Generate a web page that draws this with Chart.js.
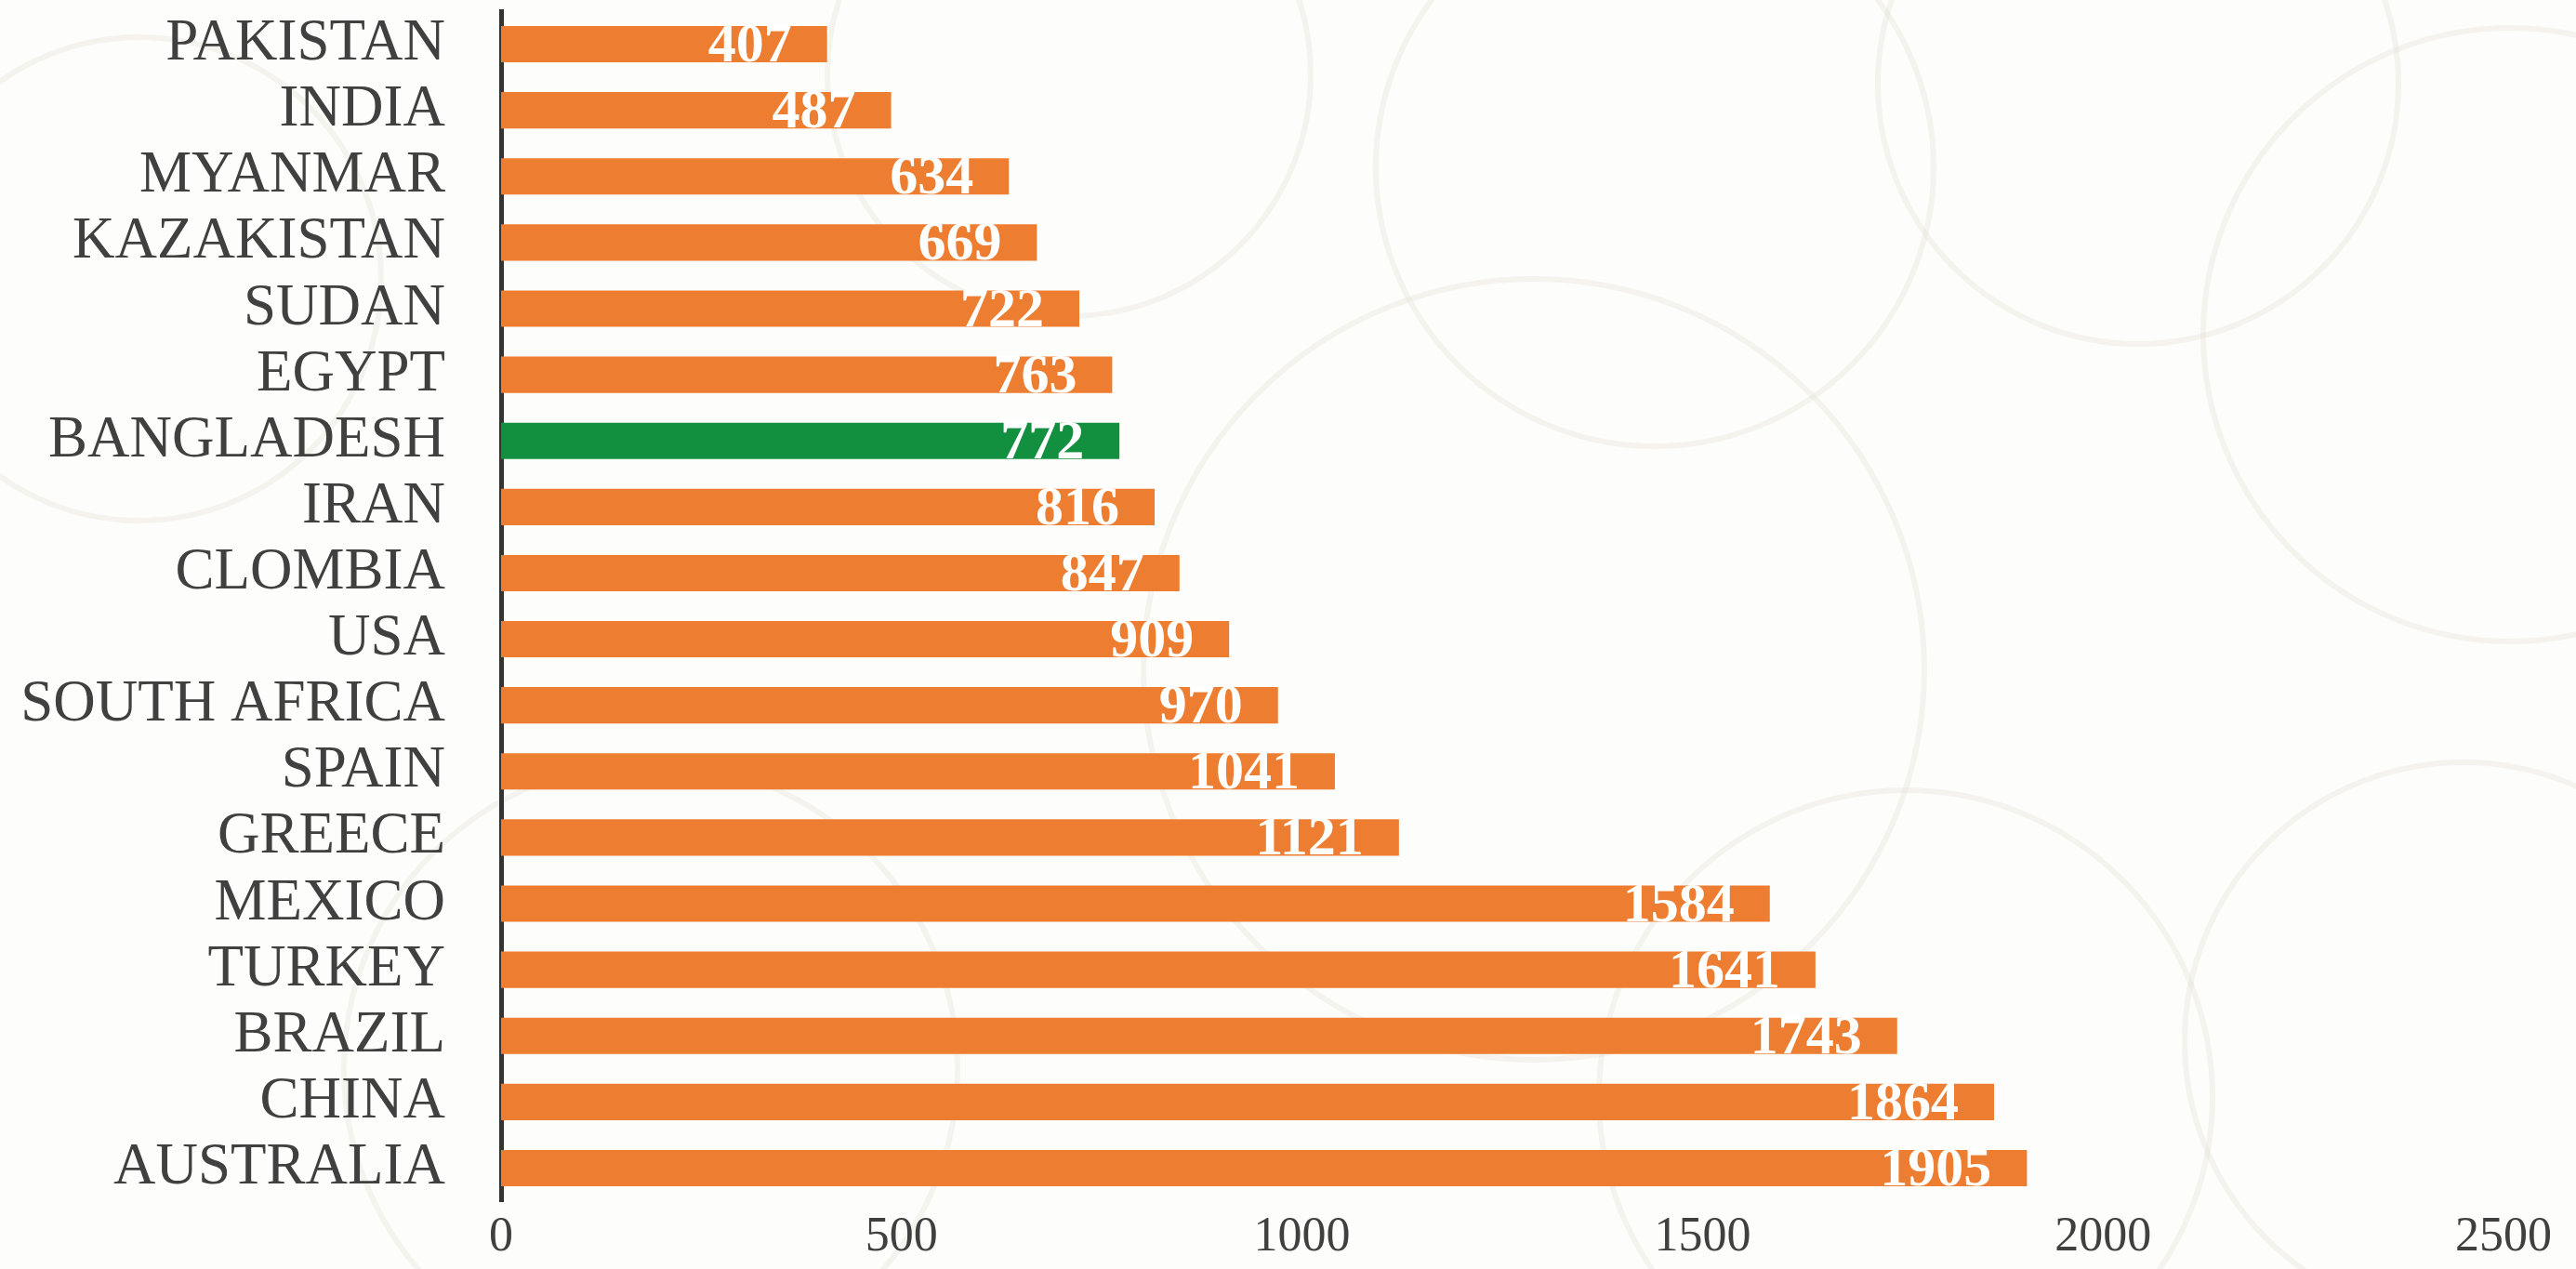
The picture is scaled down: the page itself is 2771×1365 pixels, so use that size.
<!DOCTYPE html>
<html>
<head>
<meta charset="utf-8">
<script src="https://cdn.jsdelivr.net/npm/chart.js@4/dist/chart.umd.min.js"></script>
<style>
  html, body { margin: 0; padding: 0; background: #fdfdfb; }
  #wrap { width: 2771px; height: 1365px; }
</style>
</head>
<body>
<div id="wrap"><canvas id="bars"></canvas></div>
<script>
// countries, top to bottom
const countries = [
  "PAKISTAN", "INDIA", "MYANMAR", "KAZAKISTAN", "SUDAN", "EGYPT",
  "BANGLADESH", "IRAN", "CLOMBIA", "USA", "SOUTH AFRICA", "SPAIN",
  "GREECE", "MEXICO", "TURKEY", "BRAZIL", "CHINA", "AUSTRALIA"
];
const values = [
  407, 487, 634, 669, 722, 763,
  772, 816, 847, 909, 970, 1041,
  1121, 1584, 1641, 1743, 1864, 1905
];
const highlight = "BANGLADESH";
const xMax = 2500;
const xStep = 500;

const ORANGE = "#ED7D31";
const GREEN = "#13903F";
const SERIF = "'Liberation Serif', 'DejaVu Serif', serif";

const barColors = countries.map(c => c === highlight ? GREEN : ORANGE);

/* =========================
   faint ring pattern behind the chart
   ========================= */
const rings = [
  [1780, 180, 300], [2300, 90, 280], [2700, 360, 330],
  [1650, 720, 420], [2050, 1180, 330], [2650, 1120, 300],
  [700, 1150, 330], [150, 300, 260], [1150, 80, 260]
];

const backdrop = {
  id: "backdrop",
  beforeDraw(chart) {
    const { ctx, width, height } = chart;
    ctx.save();
    ctx.fillStyle = "#fdfdfb";
    ctx.fillRect(0, 0, width, height);
    ctx.strokeStyle = "rgba(225, 222, 210, 0.3)";
    ctx.lineWidth = 6;
    rings.forEach(([x, y, r]) => {
      ctx.beginPath();
      ctx.arc(x, y, r, 0, Math.PI * 2);
      ctx.stroke();
    });
    ctx.restore();
  }
};

/* =========================
   value labels inside the bar ends
   ========================= */
const valueLabels = {
  id: "valueLabels",
  afterDatasetsDraw(chart) {
    const { ctx } = chart;
    const meta = chart.getDatasetMeta(0);
    ctx.save();
    ctx.font = "bold 60px " + SERIF;
    ctx.fillStyle = "#ffffff";
    ctx.textAlign = "right";
    ctx.textBaseline = "middle";
    meta.data.forEach((bar, i) => {
      ctx.fillText(String(values[i]), bar.x - 38, bar.y + 3);
    });
    ctx.restore();
  }
};

new Chart(document.getElementById("bars"), {
  type: "bar",
  data: {
    labels: countries,
    datasets: [{
      data: values,
      backgroundColor: barColors,
      borderWidth: 0,
      categoryPercentage: 1,
      barPercentage: 0.55
    }]
  },
  options: {
    indexAxis: "y",
    responsive: true,
    maintainAspectRatio: false,
    animation: false,
    devicePixelRatio: 1,
    layout: { padding: { top: 12, right: 78, bottom: 0, left: 0 } },
    plugins: {
      legend: { display: false },
      tooltip: { enabled: false }
    },
    scales: {
      x: {
        min: 0,
        max: xMax,
        grid: { display: false, drawTicks: false },
        border: { display: false },
        afterFit(scale) { scale.height = 73; },
        ticks: {
          stepSize: xStep,
          padding: 8,
          color: "#404040",
          font: { family: SERIF, size: 52 },
          callback: v => String(v)
        }
      },
      y: {
        grid: { display: false, drawTicks: false },
        border: { display: true, color: "#333333", width: 5 },
        afterFit(scale) {
          scale.width = 539;
          scale.paddingTop = 0;
          scale.paddingBottom = 0;
        },
        ticks: {
          autoSkip: false,
          padding: 60,
          color: "#404040",
          font: { family: SERIF, size: 63 }
        }
      }
    }
  },
  plugins: [backdrop, valueLabels]
});
</script>
</body>
</html>
